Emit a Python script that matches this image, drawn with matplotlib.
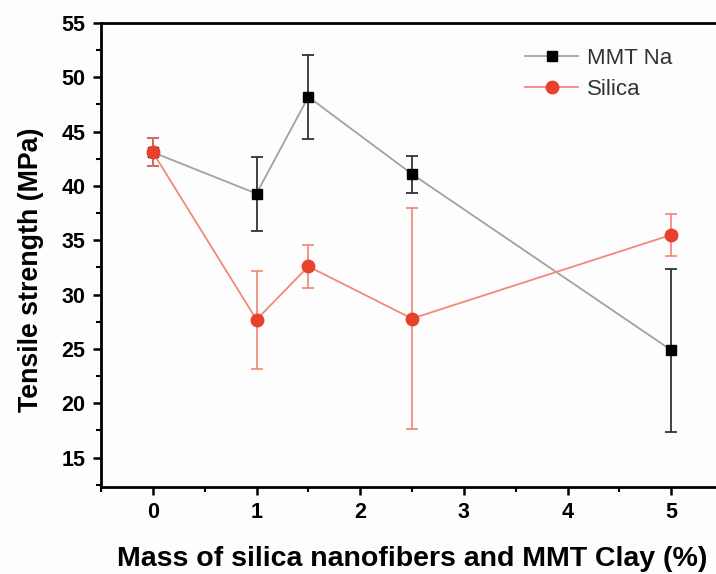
import matplotlib
matplotlib.use("Agg")
import matplotlib.pyplot as plt
from matplotlib.ticker import MultipleLocator
from matplotlib.lines import Line2D

plt.rcParams['font.family'] = ['Liberation Sans', 'DejaVu Sans']

x_mmt = [0, 1, 1.5, 2.5, 5]
y_mmt = [43.1, 39.3, 48.2, 41.1, 24.9]
e_mmt = [1.3, 3.4, 3.9, 1.7, 7.5]

x_si = [0, 1, 1.5, 2.5, 5]
y_si = [43.1, 27.7, 32.6, 27.8, 35.5]
e_si = [1.3, 4.5, 2.0, 10.2, 1.9]

c_mmt_line = '#a8a09c'
c_si_line = '#f08a7a'
c_si_mark = '#e8412b'

fig = plt.figure(figsize=(7.16, 5.74), dpi=100)
fig.patch.set_facecolor('#fdfdfd')
ax = fig.add_axes([101/716, 1 - 487/574, (723-101)/716, (487-23)/574])
ax.set_facecolor('#fdfdfd')

ax.errorbar(x_mmt, y_mmt, yerr=e_mmt, color=c_mmt_line, lw=1.3,
            marker='s', ms=7, mfc='black', mec='black',
            ecolor='#333333', elinewidth=1.3, capsize=4, capthick=1.3,
            zorder=2)
ax.errorbar(x_si, y_si, yerr=e_si, color=c_si_line, lw=1.3,
            marker='o', ms=9, mfc=c_si_mark, mec=c_si_mark,
            ecolor='#f07a68', elinewidth=1.1, capsize=4, capthick=1.1,
            zorder=3)

ax.set_xlim(-0.5, 5.5)
ax.set_ylim(12.3, 55)
ax.xaxis.set_major_locator(MultipleLocator(1))
ax.xaxis.set_minor_locator(MultipleLocator(0.5))
ax.yaxis.set_major_locator(MultipleLocator(5))
ax.yaxis.set_minor_locator(MultipleLocator(2.5))
ax.set_yticks(range(15, 56, 5))
ax.tick_params(which='major', direction='out', length=6, width=1.8, labelsize=15.5, pad=5)
ax.tick_params(which='minor', direction='out', length=3.5, width=1.5)
for lab in ax.get_xticklabels() + ax.get_yticklabels():
    lab.set_fontweight('bold')
for s in ax.spines.values():
    s.set_linewidth(2)

ax.set_xlabel('Mass of silica nanofibers and MMT Clay (%)', fontsize=20.5, fontweight='bold', labelpad=16)
ax.set_ylabel('Tensile strength (MPa)', fontsize=19.3, fontweight='bold')
ax.yaxis.set_label_coords(-0.0916, 0.468)

handles = [
    Line2D([], [], color=c_mmt_line, lw=1.3, marker='s', ms=7, mfc='black', mec='black'),
    Line2D([], [], color=c_si_line, lw=1.3, marker='o', ms=9, mfc=c_si_mark, mec=c_si_mark),
]
leg = fig.legend(handles, ['MMT Na', 'Silica'], loc='upper left',
                 bbox_to_anchor=(525/716, 1 - 48/574), bbox_transform=fig.transFigure,
                 frameon=False, fontsize=16, handlelength=2.4, handletextpad=0.4,
                 labelspacing=0.45, borderpad=0, borderaxespad=0)
for t in leg.get_texts():
    t.set_color('#333333')

fig.savefig('out.png', dpi=100, facecolor=fig.get_facecolor())
